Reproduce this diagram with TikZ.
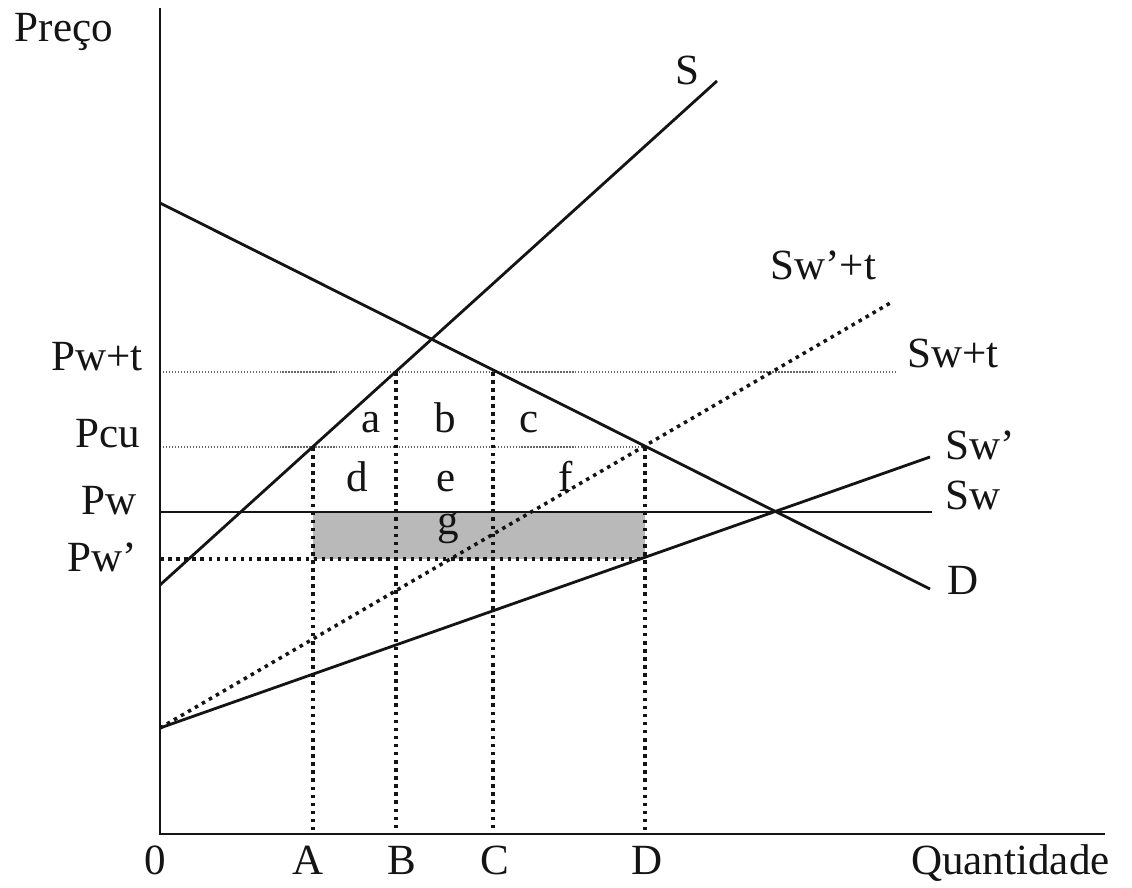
\documentclass[tikz,border=0pt]{standalone}
\usepackage{fontspec}
\setmainfont{Liberation Serif}
\usetikzlibrary{positioning}
\definecolor{ink}{RGB}{20,20,20}
\definecolor{lossgray}{RGB}{185,185,185}
\tikzset{
  curve/.style={draw=ink,line width=1.6pt},
  guide/.style={draw=ink,line width=2pt,dash pattern=on 2pt off 2.6pt},
  faint/.style={draw=ink!65,line width=0.7pt,densely dotted},
  lbl/.style={font=\fontsize{24.5}{28}\selectfont,text=ink,inner sep=0pt},
  area/.style={lbl,anchor=base},
}
\begin{document}
\begin{tikzpicture}[x=0.2cm,y=0.2cm]
  \useasboundingbox (-16,-5.4) rectangle (97.2,83.4);
  % quantities and prices
  \coordinate (O) at (0,0);
  \coordinate (qA) at (15.3,0);
  \coordinate (qB) at (23.6,0);
  \coordinate (qC) at (33.3,0);
  \coordinate (qD) at (48.5,0);
  \coordinate (pwt) at (0,46.2);
  \coordinate (pcu) at (0,38.7);
  \coordinate (pw) at (0,32.2);
  \coordinate (pwp) at (0,27.5);
  % loss area
  \fill[lossgray] (qA|-pw) rectangle (qD|-pwp);
  % guides
  \draw[faint] (pwt) -- (73.5,46.2) coordinate (pwtend);
  \draw[faint] (pcu) -- (qD|-pcu);
  \draw[guide] (pwp) -- (qD|-pwp);
  \foreach \q/\p in {qA/pcu,qB/pwt,qC/pwt,qD/pcu}
    \draw[guide] (\q|-\p) -- (\q);
  \draw[guide] (0,10.6) coordinate (swo) -- (73.2,53.2) coordinate (swpt);
  % curves
  \draw[curve] (0,24.9) coordinate (so) -- (55.7,75.3) coordinate (send);
  \draw[curve] (0,63.1) coordinate (do) -- (77,24.5) coordinate (dend);
  \draw[curve] (pw) -- (77.2,32.2) coordinate (swend);
  \draw[curve] (swo) -- (77,37.7) coordinate (swpend);
  % axes
  \draw[curve] (0,82.6) coordinate (top) -- (O) -- (94.5,0) coordinate (qend);

  \node[lbl,anchor=base] (preco) at (-9.6,79.2) {Preço};
  \node[lbl,anchor=base east] (lpwt) at (-1.7,46.3) {Pw+t};
  \node[lbl,anchor=base east] (lpcu) at (-2.0,38.6) {Pcu};
  \node[lbl,anchor=base east] (lpw) at (-2.3,31.9) {Pw};
  \node[lbl,anchor=base east] (lpwp) at (-2.3,26.2) {Pw’};
  \foreach \t/\x in {0/-0.5,A/14.8,B/24.2,C/33.5,D/48.7}
    \node[lbl,anchor=base] (x\t) at (\x,-4.1) {\t};
  \node[lbl,anchor=base east] (quant) at (95.0,-4.1) {Quantidade};

  \node[lbl,anchor=base] (lS) at (52.7,74.9) {S};
  \node[lbl,anchor=base west] (lswpt) at (61.0,55.4) {Sw’+t};
  \node[lbl,anchor=base west] (lswt) at (74.7,46.6) {Sw+t};
  \node[lbl,anchor=base west] (lswp) at (78.5,37.4) {Sw’};
  \node[lbl,anchor=base west] (lsw) at (78.5,32.4) {Sw};
  \node[lbl,anchor=base west] (lD) at (78.7,23.9) {D};

  \foreach \t/\x/\y in {a/21.1/40.1,b/28.5/40.1,c/36.9/40.1,
      d/19.7/34.2,e/28.6/34.2,f/40.6/34.2,g/28.8/29.9}
    \node[area] (r\t) at (\x,\y) {\t};
\end{tikzpicture}
\end{document}
